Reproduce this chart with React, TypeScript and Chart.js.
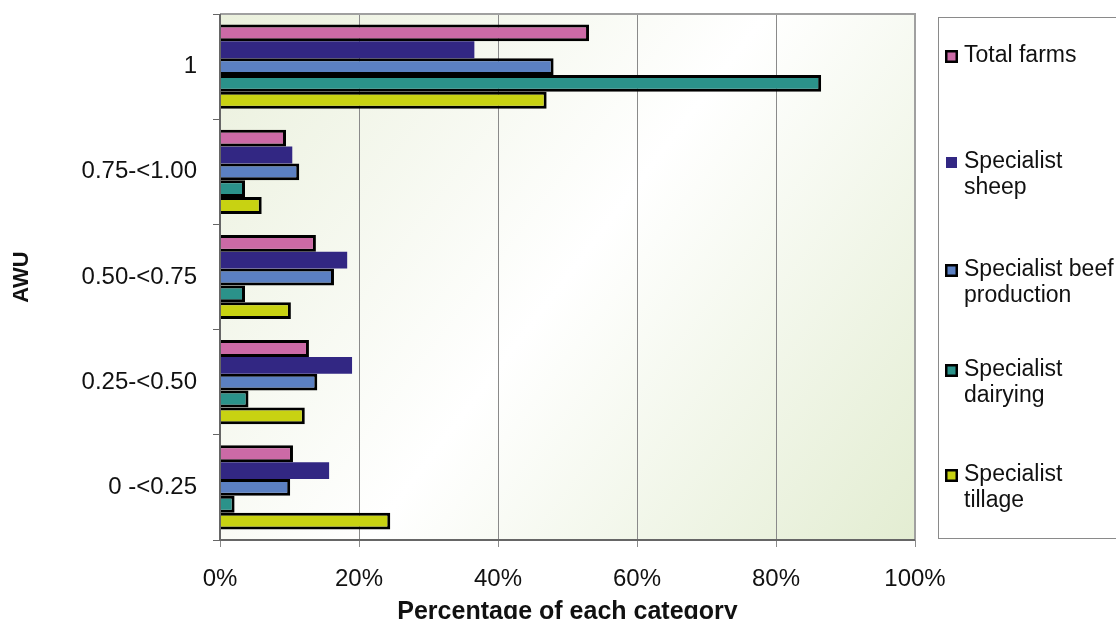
import React, { useEffect, useRef } from "react";
import Chart from "chart.js/auto";

const categories = ["1", "0.75-<1.00", "0.50-<0.75", "0.25-<0.50", "0 -<0.25"];
const totalFarms = [53.1, 9.5, 13.8, 12.8, 10.5];
const specialistSheep = [36.6, 10.4, 18.3, 19.0, 15.7];
const specialistBeef = [48.0, 11.4, 16.4, 14.0, 10.1];
const specialistDairying = [86.5, 3.6, 3.6, 4.1, 2.1];
const specialistTillage = [47.0, 6.0, 10.2, 12.2, 24.5];
const xTicks = [0, 20, 40, 60, 80, 100];

const legendLines = [
  ["Total farms"],
  ["Specialist", "sheep"],
  ["Specialist beef", "production"],
  ["Specialist", "dairying"],
  ["Specialist", "tillage"],
];

const FONT = "'Liberation Sans', Arial, sans-serif";

export default function App() {
  const ref = useRef<HTMLCanvasElement | null>(null);

  useEffect(() => {
    document.body.style.margin = "0";
    const canvas = ref.current;
    if (!canvas) return;

    const bgPlugin = {
      id: "bg",
      beforeDraw(chart: any) {
        const { ctx, chartArea: a } = chart;
        const g = ctx.createLinearGradient(a.left, a.top, a.right, a.bottom);
        g.addColorStop(0, "#eaf0dc");
        g.addColorStop(0.5, "#ffffff");
        g.addColorStop(1, "#e3edd2");
        ctx.save();
        ctx.fillStyle = g;
        ctx.fillRect(a.left, a.top, a.right - a.left, a.bottom - a.top);
        ctx.restore();
      },
      afterDatasetsDraw(chart: any) {
        const { ctx, chartArea: a } = chart;
        ctx.save();
        ctx.strokeStyle = "#a0a0a0";
        ctx.lineWidth = 2;
        ctx.beginPath();
        ctx.moveTo(a.left, a.top);
        ctx.lineTo(a.right, a.top);
        ctx.lineTo(a.right, a.bottom);
        ctx.stroke();
        ctx.strokeStyle = "#666";
        ctx.beginPath();
        ctx.moveTo(a.left, a.top);
        ctx.lineTo(a.left, a.bottom);
        ctx.lineTo(a.right, a.bottom);
        ctx.stroke();
        ctx.restore();
      },
    };

    const legendPlugin = {
      id: "customLegend",
      afterDraw(chart: any) {
        const { ctx } = chart;
        ctx.save();
        ctx.strokeStyle = "#8a8a8a";
        ctx.lineWidth = 1;
        ctx.strokeRect(938.5, 17.5, 200, 521);
        const firstY = [56, 162, 270, 370, 475];
        ctx.font = `23px ${FONT}`;
        ctx.textBaseline = "middle";
        chart.data.datasets.forEach((ds: any, i: number) => {
          const y = firstY[i];
          if (ds.borderWidth > 0) {
            ctx.fillStyle = "#000";
            ctx.fillRect(945, y - 6, 13, 13);
            ctx.fillStyle = ds.backgroundColor;
            ctx.fillRect(947.5, y - 3.5, 8, 8);
          } else {
            ctx.fillStyle = ds.backgroundColor;
            ctx.fillRect(946, y - 5, 11, 11);
          }
          ctx.fillStyle = "#111";
          legendLines[i].forEach((t, j) => {
            ctx.fillText(t, 964, y + j * 26);
          });
        });
        ctx.restore();
      },
    };

    const chart = new Chart(canvas, {
      type: "bar",
      data: {
        labels: categories,
        datasets: [
          { label: "Total farms", data: totalFarms, backgroundColor: "#cc6aa6", borderColor: "#000", borderWidth: 3 },
          { label: "Specialist sheep", data: specialistSheep, backgroundColor: "#322783", borderColor: "#322783", borderWidth: 0 },
          { label: "Specialist beef production", data: specialistBeef, backgroundColor: "#5b80c2", borderColor: "#000", borderWidth: 3 },
          { label: "Specialist dairying", data: specialistDairying, backgroundColor: "#2b928a", borderColor: "#000", borderWidth: 3 },
          { label: "Specialist tillage", data: specialistTillage, backgroundColor: "#c8d212", borderColor: "#000", borderWidth: 3 },
        ],
      },
      options: {
        indexAxis: "y",
        animation: false,
        responsive: false,
        maintainAspectRatio: false,
        layout: { padding: { left: 0, top: 14, right: 201, bottom: 0 } },
        datasets: { bar: { barPercentage: 1, categoryPercentage: 0.8, borderSkipped: "start" } },
        plugins: { legend: { display: false }, tooltip: { enabled: false } },
        scales: {
          x: {
            type: "linear",
            min: 0,
            max: 100,
            afterBuildTicks: (s: any) => {
              s.ticks = xTicks.map((v) => ({ value: v }));
            },
            afterFit: (s: any) => {
              s.height = 79;
            },
            ticks: {
              callback: (v: any) => v + "%",
              font: { family: FONT, size: 24 },
              color: "#111",
              padding: 18,
              maxRotation: 0,
            },
            grid: { color: "#8a8a8a", lineWidth: 1, tickLength: 7, drawTicks: true },
            border: { display: false },
            title: {
              display: true,
              text: "Percentage of each category",
              font: { family: FONT, size: 25, weight: "bold", lineHeight: 1 },
              color: "#111",
              padding: { top: 0, bottom: -6 },
            },
          },
          y: {
            type: "category",
            afterFit: (s: any) => {
              s.width = 220;
              s.paddingTop = 0;
              s.paddingBottom = 0;
            },
            ticks: {
              font: { family: FONT, size: 24 },
              color: "#111",
              padding: 16,
            },
            grid: { drawOnChartArea: false, drawTicks: true, tickLength: 7, color: "#666", offset: true },
            border: { display: false },
            title: {
              display: true,
              text: "AWU",
              font: { family: FONT, size: 22, weight: "bold", lineHeight: 1 },
              color: "#111",
              padding: { top: 11, bottom: 0 },
            },
          },
        },
      },
      plugins: [bgPlugin, legendPlugin],
    } as any);

    return () => chart.destroy();
  }, []);

  return (
    <div style={{ width: 1116, height: 619, position: "relative" }}>
      <canvas ref={ref} width={1116} height={619} style={{ display: "block" }} />
    </div>
  );
}
